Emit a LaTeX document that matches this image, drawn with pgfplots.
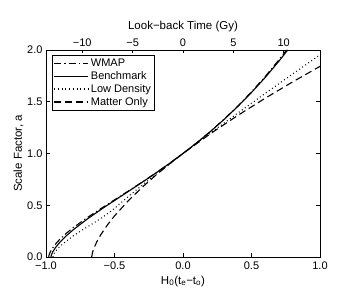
\documentclass[border=0pt]{standalone}
\usepackage{pgfplots}
\pgfplotsset{compat=1.18}
\usepackage{fontspec}
\setmainfont{Liberation Sans}
\begin{document}
\begin{tikzpicture}
\pgfplotsset{
  every axis/.append style={
    scale only axis, width=274pt, height=207pt,
    tick align=inside, major tick length=3.5pt,
    tick label style={font=\fontsize{11}{13}\selectfont},
    label style={font=\fontsize{11.5}{13}\selectfont},
    axis line style={line width=0.8pt}, every tick/.style={line width=0.6pt, black},
  }
}
\begin{axis}[
  name=ax,
  xmin=-1, xmax=1, ymin=0, ymax=2,
  xtick={-1,-0.5,0,0.5,1},
  xticklabels={−1.0,−0.5,0.0,0.5,1.0},
  ytick={0,0.5,1,1.5,2},
  yticklabels={0.0,0.5,1.0,1.5,2.0},
  xtick pos=bottom, ytick pos=both,
  xticklabel style={yshift=-1.5pt},
  xlabel={H\textsubscript{0}(t\textsubscript{e}−t\textsubscript{o})},
  xlabel style={yshift=1pt},
  ylabel={Scale Factor, a},
  ylabel style={yshift=-3pt},
  legend cell align=left,
  legend style={at={(0.022,0.976)}, anchor=north west, font=\fontsize{11}{13}\selectfont,
    draw=black, line width=0.6pt, inner sep=1.5pt, row sep=-0.5pt},
  legend image code/.code={\draw[#1] plot coordinates {(0pt,0pt) (17pt,0pt) (34pt,0pt)};},
]
% WMAP
\addplot[black, line width=1.1pt, dash pattern=on 7pt off 3pt on 1.2pt off 3pt] coordinates {
(-0.980,0) (-0.978,0.0164) (-0.970,0.0461) (-0.952,0.0866) (-0.925,0.1338) (-0.897,0.1738) (-0.849,0.2322)
(-0.8,0.2845) (-0.7,0.3793) (-0.6,0.4671) (-0.5,0.5520) (-0.4,0.6365) (-0.3,0.7222) (-0.2,0.8106)
(-0.1,0.9030) (0,1.0001) (0.1,1.1033) (0.2,1.2134) (0.3,1.3314) (0.4,1.4584) (0.5,1.5954)
(0.6,1.7436) (0.7,1.9040) (0.756,1.9997)};
\addlegendentry{WMAP}
% Benchmark
\addplot[black, line width=1.1pt] coordinates {
(-0.9641,0) (-0.96,0.0225) (-0.95,0.0512) (-0.93,0.0922) (-0.9,0.1406) (-0.85,0.2068) (-0.8,0.2642)
(-0.7,0.3655) (-0.6,0.4577) (-0.5,0.5458) (-0.4,0.6326) (-0.3,0.7201) (-0.2,0.8096) (-0.1,0.9026)
(0,1.0001) (0.1,1.1029) (0.2,1.2123) (0.3,1.3292) (0.4,1.4545) (0.5,1.5894) (0.6,1.7347)
(0.7,1.8918) (0.765,2.0006)};
\addlegendentry{Benchmark}
% Low density
\addplot[black, line width=1.1pt, dash pattern=on 0.9pt off 2.8pt] coordinates {
(-0.950,0) (-0.935,0.05) (-0.90,0.10) (-0.85,0.155) (-0.80,0.205) (-0.73,0.265) (-0.65,0.33)
(-0.58,0.39) (-0.516,0.452) (-0.392,0.592) (-0.3166,0.6738) (-0.231,0.765) (-0.1334,0.8651)
(0,1) (0.1005,1.0998) (0.240,1.2362) (0.3966,1.3872) (0.572,1.5542) (0.7688,1.7389)
(0.9886,1.9431) (1.0,1.955)};
\addlegendentry{Low Density}
% Matter only
\addplot[black, line width=1.1pt, dash pattern=on 7pt off 4pt] coordinates {
(-0.6667,0) (-0.66,0.0464) (-0.65,0.0855) (-0.63,0.1446) (-0.6,0.2154) (-0.55,0.3128) (-0.5,0.3969)
(-0.4,0.5429) (-0.3,0.6713) (-0.2,0.7884) (-0.1,0.8973) (0,1) (0.2,1.1911) (0.4,1.3680)
(0.6,1.5341) (0.8,1.6915) (1.0,1.8420)};
\addlegendentry{Matter Only}
\end{axis}
\begin{axis}[
  xmin=-1, xmax=1, ymin=0, ymax=2,
  axis x line*=top, axis y line=none,
  xtick={-0.7353,-0.3676,0,0.3676,0.7353},
  xticklabels={−10,−5,0,5,10},
  xlabel={Look−back Time (Gy)},
]
\addplot[draw=none] coordinates {(0,0)};
\end{axis}
\path ([shift={(-46pt,-40pt)}]ax.south west) rectangle ([shift={(34pt,50pt)}]ax.north east);
\end{tikzpicture}
\end{document}
